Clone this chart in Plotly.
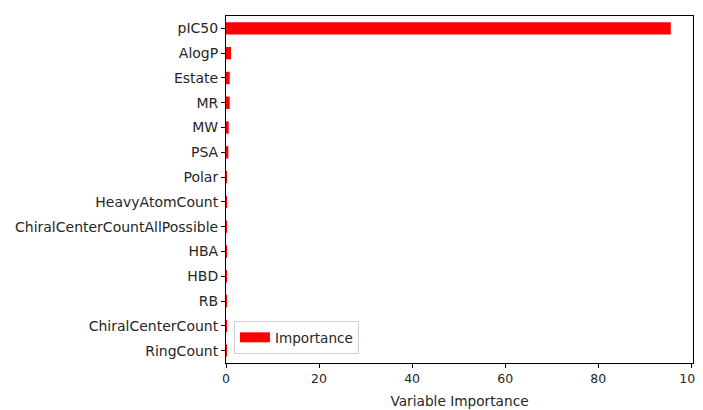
import plotly.graph_objects as go

features = ["RingCount", "ChiralCenterCount", "RB", "HBD", "HBA",
            "ChiralCenterCountAllPossible", "HeavyAtomCount", "Polar",
            "PSA", "MW", "MR", "Estate", "AlogP", "pIC50"]
importance = [0.02, 0.02, 0.02, 0.02, 0.03, 0.1, 0.12, 0.12,
              0.5, 0.58, 0.8, 0.8, 1.07, 95.6]
x_ticks = [0, 20, 40, 60, 80, 100]

fig = go.Figure()
fig.add_trace(go.Bar(
    x=importance, y=list(range(len(features))), orientation="h",
    width=0.5, marker=dict(color="red", line=dict(width=0)),
    name="Importance", showlegend=False,
))
# legend entry drawn as a wide red patch
fig.add_trace(go.Scatter(
    x=[None], y=[None], mode="lines", name="Importance",
    line=dict(color="red", width=10), showlegend=True,
))

txt = "#262626"
fig.update_layout(
    width=703, height=410,
    margin=dict(l=215, r=18, t=7, b=55),
    paper_bgcolor="white", plot_bgcolor="white",
    font=dict(family="DejaVu Sans", size=14, color=txt),
    showlegend=True,
    legend=dict(x=0.017, y=0.026, xanchor="left", yanchor="bottom",
                bordercolor="#d0d0d0", borderwidth=1, bgcolor="white",
                itemwidth=30,
                font=dict(family="DejaVu Sans", size=13.6, color=txt)),
    xaxis=dict(range=[0, max(importance) * 1.05], tickvals=x_ticks,
               ticks="outside", ticklen=4, tickcolor="black",
               tickfont=dict(family="DejaVu Sans", size=12.5, color=txt),
               showline=True, linecolor="black", linewidth=1, mirror=True,
               showgrid=False, zeroline=False,
               title=dict(text="Variable Importance", standoff=11,
                          font=dict(family="DejaVu Sans", size=13.7, color=txt))),
    yaxis=dict(range=[-0.5, len(features) - 0.5],
               tickvals=list(range(len(features))), ticktext=features,
               ticks="outside", ticklen=4, tickcolor="black",
               tickfont=dict(family="DejaVu Sans", size=14, color=txt),
               showline=True, linecolor="black", linewidth=1, mirror=True,
               showgrid=False, zeroline=False),
)
fig.write_html("out.html")
